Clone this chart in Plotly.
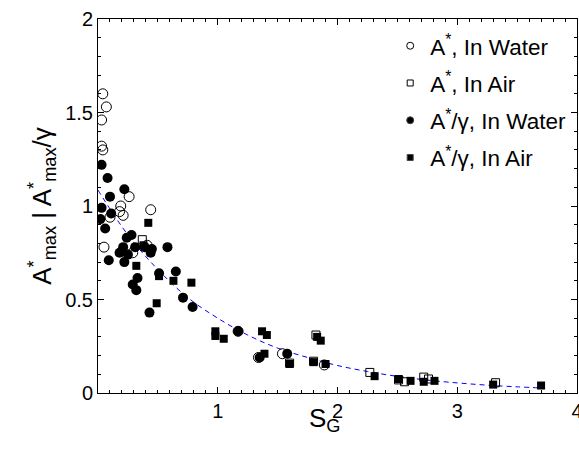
import plotly.graph_objects as go

# A*, In Water (open circles)
ow_x = [0.04, 0.07, 0.03, 0.03, 0.04, 0.26, 0.19, 0.18, 0.21, 0.44, 0.29, 0.05, 0.10, 0.41, 1.17, 1.34, 1.54, 1.89]
ow_y = [1.60, 1.53, 1.46, 1.32, 1.30, 1.05, 1.00, 0.97, 0.95, 0.98, 0.75, 0.78, 0.94, 0.79, 0.33, 0.19, 0.21, 0.15]

# A*, In Air (open squares)
oa_x = [0.37, 1.60, 1.82, 1.80, 2.27, 2.51, 2.56, 2.72, 2.76, 3.32]
oa_y = [0.82, 0.16, 0.31, 0.17, 0.11, 0.07, 0.06, 0.085, 0.075, 0.055]

# A*/gamma, In Water (filled circles)
fw_x = [0.03, 0.08, 0.22, 0.10, 0.03, 0.02, 0.11, 0.06, 0.09, 0.22, 0.18, 0.21, 0.25, 0.24, 0.28,
        0.31, 0.39, 0.44, 0.45, 0.58, 0.33, 0.29, 0.32, 0.43, 0.51, 0.65, 0.71, 0.79, 1.17, 1.35, 1.58]
fw_y = [1.22, 1.15, 1.09, 1.05, 0.99, 0.93, 0.96, 0.88, 0.71, 0.70, 0.75, 0.78, 0.74, 0.83, 0.845,
        0.78, 0.78, 0.75, 0.77, 0.78, 0.615, 0.58, 0.55, 0.43, 0.64, 0.65, 0.51, 0.46, 0.33, 0.19, 0.21]

# A*/gamma, In Air (filled squares)
fa_x = [0.42, 0.38, 0.32, 0.51, 0.63, 0.78, 0.49, 0.98, 0.98, 1.05, 1.37, 1.41, 1.39, 1.60, 1.83,
        1.86, 1.80, 1.90, 2.31, 2.51, 2.61, 2.72, 2.81, 3.30, 3.70]
fa_y = [0.91, 0.79, 0.68, 0.625, 0.60, 0.59, 0.48, 0.33, 0.305, 0.29, 0.33, 0.31, 0.21, 0.155, 0.30,
        0.28, 0.165, 0.155, 0.09, 0.075, 0.065, 0.06, 0.065, 0.045, 0.04]

# fitted curve
fit_x = [0, 0.25, 0.5, 0.75, 1.0, 1.25, 1.5, 1.75, 2.0, 2.25, 2.5, 2.75, 3.0, 3.25, 3.5, 3.7]
fit_y = [1.085, 0.845, 0.66, 0.51, 0.40, 0.31, 0.24, 0.19, 0.147, 0.115, 0.089, 0.069, 0.054, 0.042, 0.033, 0.027]

legend_names = ["A<sup>*</sup>, In Water", "A<sup>*</sup>, In Air",
                "A<sup>*</sup>/γ, In Water", "A<sup>*</sup>/γ, In Air"]

x_ticks = [1, 2, 3, 4]
y_ticks = [0, 0.5, 1, 1.5, 2]

fig = go.Figure()

fig.add_trace(go.Scatter(x=fit_x, y=fit_y, mode="lines", line=dict(color="blue", width=1, dash="5px,4px", shape="spline"),
                         showlegend=False, hoverinfo="skip"))
fig.add_trace(go.Scatter(x=ow_x, y=ow_y, mode="markers", showlegend=False,
                         marker=dict(symbol="circle-open", size=10, color="black", line=dict(width=1))))
fig.add_trace(go.Scatter(x=oa_x, y=oa_y, mode="markers", showlegend=False,
                         marker=dict(symbol="square-open", size=8, color="black", line=dict(width=1))))
fig.add_trace(go.Scatter(x=fw_x, y=fw_y, mode="markers", showlegend=False,
                         marker=dict(symbol="circle", size=10, color="black")))
fig.add_trace(go.Scatter(x=fa_x, y=fa_y, mode="markers", showlegend=False,
                         marker=dict(symbol="square", size=8, color="black")))

# legend entries with small markers
leg_sym = ["circle-open", "square-open", "circle", "square"]
leg_size = [7, 6, 7, 6]
for i, (name, s, sz) in enumerate(zip(legend_names, leg_sym, leg_size)):
    fig.add_trace(go.Scatter(x=[None], y=[None], mode="markers", name=name, legendgroup=f"g{i}",
                             marker=dict(symbol=s, size=sz, color="black", line=dict(width=1))))

axis_common = dict(showline=True, linecolor="black", linewidth=1, mirror="ticks", ticks="inside",
                   ticklen=6, tickcolor="black", showgrid=False, zeroline=False,
                   tickfont=dict(size=20, color="black"), ticklabeloverflow="allow", automargin=False,
                   minor=dict(ticks="inside", ticklen=3, dtick=0.1, tickcolor="black", showgrid=False))

fig.update_layout(
    width=579, height=452,
    margin=dict(l=98, r=2, t=19, b=59),
    plot_bgcolor="white", paper_bgcolor="white",
    font=dict(family="Liberation Sans, Arial, sans-serif", color="black"),
    xaxis=dict(range=[0, 4], tickvals=x_ticks, ticktext=[str(v) for v in x_ticks], **axis_common),
    yaxis=dict(range=[0, 2], tickvals=y_ticks, ticktext=["0", "0.5", "1", "1.5", "2"],
               title=dict(text="A<sup>*</sup><sub>max</sub> | A<sup>*</sup><sub>max</sub>/γ", font=dict(size=26), standoff=6),
               **axis_common),
    legend=dict(x=0.61, y=0.985, xanchor="left", yanchor="top", font=dict(size=22.5),
                bgcolor="rgba(0,0,0,0)", tracegroupgap=5, itemwidth=30),
    annotations=[dict(text="S<sub>G</sub>", xref="paper", yref="paper", x=0.474, y=-0.072,
                      xanchor="center", yanchor="middle", showarrow=False, font=dict(size=26))],
)

fig.write_html("out.html")
